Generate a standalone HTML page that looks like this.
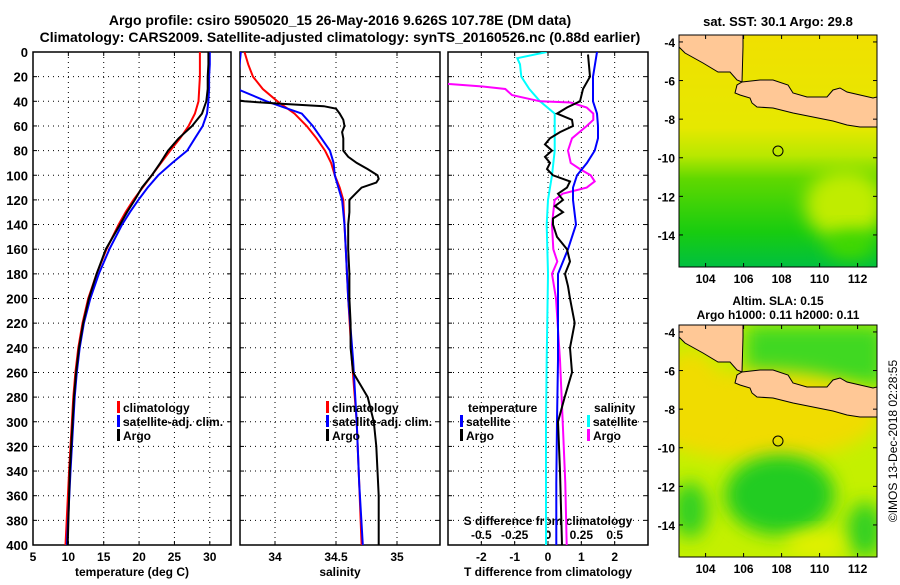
<!DOCTYPE html>
<html><head><meta charset="utf-8"><style>
body{margin:0;background:#fff}
svg text{font-family:"Liberation Sans",sans-serif;font-weight:bold;fill:#000}
</style></head><body>
<svg id="fig" width="900" height="580" xmlns="http://www.w3.org/2000/svg">
<defs>
<clipPath id="c1"><rect x="33" y="52" width="198" height="493"/></clipPath>
<clipPath id="c2"><rect x="240" y="52" width="200" height="493"/></clipPath>
<clipPath id="c3"><rect x="448" y="52" width="200" height="493"/></clipPath>
<clipPath id="m1"><rect x="679" y="35" width="198" height="232"/></clipPath>
<clipPath id="m2"><rect x="679" y="325" width="198" height="232"/></clipPath>
<linearGradient id="sstg" x1="0" y1="0" x2="0" y2="1">
<stop offset="0" stop-color="#f0e000"/><stop offset="0.4" stop-color="#e6e800"/><stop offset="0.52" stop-color="#b8e800"/><stop offset="0.62" stop-color="#60d800"/><stop offset="0.85" stop-color="#18cc10"/><stop offset="1" stop-color="#00c040"/></linearGradient>
<filter id="bl" x="-50%" y="-50%" width="200%" height="200%"><feGaussianBlur stdDeviation="9"/></filter>
</defs>
<text x="340" y="25" font-size="14" text-anchor="middle">Argo profile: csiro 5905020_15 26-May-2016 9.626S 107.78E (DM data)</text>
<text x="340" y="42" font-size="14" text-anchor="middle">Climatology: CARS2009. Satellite-adjusted climatology: synTS_20160526.nc (0.88d earlier)</text>
<g id="axes"></g>
<g id="maps">
 <g clip-path="url(#m1)">
  <rect x="679" y="35" width="198" height="232" fill="url(#sstg)"/>
  <ellipse cx="845" cy="205" rx="40" ry="35" fill="#c0ec00" filter="url(#bl)"/>
  <ellipse cx="850" cy="245" rx="25" ry="15" fill="#40d800" filter="url(#bl)"/>
  <polygon id="land1" fill="#ffc896" stroke="#000" stroke-width="1" points="679,35 743,35 743,47 742,82 737,80 730,72 718,72 703,63 685,53 679,47"/>
  <polygon fill="#ffc896" stroke="#000" stroke-width="1" points="742,82 760,80 773,80 788,85 793,93 807,97 827,97 833,90 840,88 847,92 860,95 873,98 877,97 877,127 860,127 847,125 833,121 813,117 793,113 773,108 757,107 752,103 750,98 740,95 735,93 737,85"/>
  <circle cx="778" cy="151" r="5" fill="none" stroke="#000"/>
 </g>
 <rect x="679" y="35" width="198" height="232" fill="none" stroke="#000"/>
 <g clip-path="url(#m2)">
  <rect x="679" y="325" width="198" height="232" fill="#c4f000"/>
  <rect x="745" y="325" width="140" height="60" fill="#40d820" filter="url(#bl)"/>
  <ellipse cx="760" cy="415" rx="120" ry="45" fill="#f0dc00" filter="url(#bl)"/>
  <ellipse cx="690" cy="390" rx="30" ry="40" fill="#f0dc00" filter="url(#bl)"/>
  <ellipse cx="780" cy="495" rx="55" ry="40" fill="#20cc20" filter="url(#bl)"/>
  <ellipse cx="690" cy="510" rx="18" ry="28" fill="#30d020" filter="url(#bl)"/>
  <ellipse cx="865" cy="530" rx="18" ry="28" fill="#30d020" filter="url(#bl)"/>
  <ellipse cx="815" cy="545" rx="30" ry="12" fill="#e4f000" filter="url(#bl)"/>
  <polygon fill="#ffc896" stroke="#000" stroke-width="1" points="679,325 743,325 743,337 742,372 737,370 730,362 718,362 703,353 685,343 679,337"/>
  <polygon fill="#ffc896" stroke="#000" stroke-width="1" points="742,372 760,370 773,370 788,375 793,383 807,387 827,387 833,380 840,378 847,382 860,385 873,388 877,387 877,417 860,417 847,415 833,411 813,407 793,403 773,398 757,397 752,393 750,388 740,385 735,383 737,375"/>
  <circle cx="778" cy="441" r="5" fill="none" stroke="#000"/>
 </g>
 <rect x="679" y="325" width="198" height="232" fill="none" stroke="#000"/>
 <text x="778" y="26" font-size="13" text-anchor="middle">sat. SST: 30.1 Argo: 29.8</text>
 <text x="778" y="305" font-size="12" text-anchor="middle">Altim. SLA: 0.15</text>
 <text x="778" y="319" font-size="12" text-anchor="middle">Argo h1000: 0.11 h2000: 0.11</text>
 <text x="897" y="441" font-size="12" font-weight="normal" text-anchor="middle" transform="rotate(-90 897 441)" style="font-weight:normal">©IMOS 13-Dec-2018 02:28:55</text>
</g>
</svg>
<script>
// Panel 1: temperature
const tDepth=[0,10,20,30,40,50,60,70,80,90,100,110,120,130,140,160,180,200,220,240,260,280,300,340,400];
const tClim=[28.6,28.6,28.6,28.5,28.4,27.9,27.0,25.8,24.4,23.1,21.8,20.5,19.2,18.1,17.1,15.4,14.0,12.8,12.0,11.4,11.0,10.7,10.5,10.1,9.6];
const tSat=[30.0,30.0,29.9,29.9,29.8,29.6,29.0,27.9,26.8,24.7,22.7,21.2,19.9,18.7,17.6,15.8,14.3,13.1,12.2,11.6,11.2,10.9,10.7,10.3,9.8];
const tArgo=[29.8,29.8,29.7,29.7,29.5,28.9,27.5,25.6,24.1,23.0,21.8,20.4,19.4,18.3,17.3,15.3,14.0,12.9,12.1,11.5,11.1,10.8,10.6,10.2,9.9];
// Panel 2: salinity
const sDepth=[0,10,20,30,40,50,60,70,80,90,100,110,120,140,160,200,250,300,350,400];
const sClim=[33.75,33.78,33.82,33.9,34.02,34.16,34.26,34.34,34.41,34.46,34.49,34.53,34.56,34.57,34.58,34.6,34.63,34.67,34.69,34.71];
const sSat=[33.72,33.71,33.70,33.69,33.93,34.22,34.31,34.38,34.45,34.48,34.49,34.52,34.55,34.57,34.58,34.6,34.64,34.67,34.69,34.72];
const sArgoDepth=[38,40,42,44,46,50,55,60,65,70,80,85,90,95,100,103,106,110,115,120,130,140,160,180,200,220,240,260,270,280,300,320,340,360,380,400];
const sArgo=[33.6,33.75,34.05,34.4,34.5,34.53,34.56,34.57,34.55,34.56,34.56,34.6,34.67,34.76,34.84,34.85,34.83,34.71,34.66,34.61,34.61,34.6,34.6,34.61,34.61,34.62,34.62,34.64,34.7,34.76,34.81,34.83,34.84,34.85,34.85,34.85];
// Panel 3: differences
const dtSatDepth=[0,20,40,50,60,70,80,90,100,110,120,140,160,180,200,250,300,350,400];
const dtSat=[1.47,1.35,1.35,1.47,1.5,1.5,1.4,1.17,0.87,0.75,0.75,0.84,0.6,0.3,0.3,0.3,0.27,0.25,0.25];
const dtArgoDepth=[2,20,30,40,45,50,55,60,65,70,75,80,85,90,95,100,105,110,115,120,125,130,135,140,150,160,170,180,190,200,220,240,260,280,300,340,400];
const dtArgo=[1.2,1.26,1.05,0.96,0.57,0.27,0.72,0.75,0.36,0.06,-0.09,0.12,-0.09,0.06,-0.03,0.15,0.66,0.57,0.3,0.45,0.21,0.45,0.15,0.15,0.27,0.57,0.66,0.51,0.6,0.66,0.8,0.66,0.72,0.5,0.3,0.36,0.42];
const dsSatDepth=[0,5,10,20,30,40,50,60,80,100,120,140,180,250,300,400];
const dsSat=[-0.01,-0.23,-0.21,-0.2,-0.14,-0.06,0.05,0.05,0.05,0.03,0,-0.01,0,-0.01,-0.015,-0.015];
const dsArgoDepth=[24,26,28,30,35,40,41,45,50,55,60,70,80,90,95,100,105,110,115,120,130,140,160,170,180,200,250,300,350,400];
const dsArgo=[-0.9,-0.74,-0.49,-0.32,-0.27,-0.06,0.17,0.29,0.34,0.34,0.29,0.18,0.15,0.17,0.24,0.32,0.35,0.29,0.11,0.05,0.04,0.03,0.04,0.07,0.03,0.06,0.09,0.11,0.13,0.14];
const depthTicks=[0,20,40,60,80,100,120,140,160,180,200,220,240,260,280,300,320,340,360,380,400];
const tTicks=[5,10,15,20,25,30];
const sTicks=[34,34.5,35];
const sTickLabels=['34','34.5','35'];
const dtTicks=[-2,-1,0,1,2];
const dsTicks=[-0.5,-0.25,0,0.25,0.5];
const dsTickLabels=['-0.5','-0.25','0','0.25','0.5'];
const lonTicks=[104,106,108,110,112];
const latTicks=[-4,-6,-8,-10,-12,-14];

const NS='http://www.w3.org/2000/svg';
const svg=document.getElementById('fig'), G=document.getElementById('axes');
const Y0=52,Y1=545;
const yD=d=>Y0+d*(Y1-Y0)/400;
const xT=v=>33+(v-5)*198/28;
const xS=v=>275+(v-34)*122;
const xDT=v=>548+v*200/6;
const xDS=v=>548+v*200/1.5;
function el(tag,attrs,parent){const e=document.createElementNS(NS,tag);for(const k in attrs)e.setAttribute(k,attrs[k]);(parent||G).appendChild(e);return e;}
function txt(x,y,s,size,anchor,parent){const t=el('text',{x:x,y:y,'font-size':size,'text-anchor':anchor||'middle'},parent);t.textContent=s;return t;}
function line(xs,ds,xf,color,w,clip,name){
 const p=xs.map((v,i)=>xf(v).toFixed(1)+','+yD(ds[i]).toFixed(1)).join(' ');
 const e=el('polyline',{points:p,fill:'none',stroke:color,'stroke-width':w,'clip-path':'url(#'+clip+')'});
 
 
}
function panel(x0,w,xticks,xf,name){
 const g=el('g',{});
 
 
 depthTicks.forEach(d=>{if(d>0&&d<400)el('line',{x1:x0,x2:x0+w,y1:yD(d),y2:yD(d),stroke:'#000','stroke-dasharray':'1,4'},g);
  el('line',{x1:x0,x2:x0+4,y1:yD(d),y2:yD(d),stroke:'#000'},g);el('line',{x1:x0+w-4,x2:x0+w,y1:yD(d),y2:yD(d),stroke:'#000'},g);});
 xticks.forEach(v=>{const x=xf(v);if(x>x0+1&&x<x0+w-1){el('line',{x1:x,x2:x,y1:Y0,y2:Y1,stroke:'#000','stroke-dasharray':'1,4'},g);}
  el('line',{x1:x,x2:x,y1:Y1,y2:Y1-4,stroke:'#000'},g);el('line',{x1:x,x2:x,y1:Y0,y2:Y0+4,stroke:'#000'},g);});
 el('rect',{x:x0,y:Y0,width:w,height:Y1-Y0,fill:'none',stroke:'#000','stroke-width':1.5},g);
 return g;
}
const g1=panel(33,198,tTicks,xT,'temperature-panel');
const g2=panel(240,200,sTicks,xS,'salinity-panel');
const g3=panel(448,200,dtTicks,xDT,'difference-panel');
depthTicks.forEach(d=>{const t=txt(28,yD(d)+5,String(d),13,'end');});
tTicks.forEach(v=>{const t=txt(xT(v),561,String(v),12);});
sTicks.forEach((v,i)=>{const t=txt(xS(v),561,sTickLabels[i],12);});
dtTicks.forEach(v=>{const t=txt(xDT(v),561,String(v),12);});
dsTicks.forEach((v,i)=>{const t=txt(xDS(v),539,dsTickLabels[i],12);});
let a=txt(132,576,'temperature (deg C)',12);
a=txt(340,576,'salinity',12);
a=txt(548,576,'T difference from climatology',12);
a=txt(548,525,'S difference from climatology',12);

line(tClim,tDepth,xT,'#f00',2,'c1','temp-climatology-line');
line(tSat,tDepth,xT,'#00f',2,'c1','temp-satellite-line');
line(tArgo,tDepth,xT,'#000',2,'c1','temp-argo-line');
line(sClim,sDepth,xS,'#f00',2,'c2','sal-climatology-line');
line(sSat,sDepth,xS,'#00f',2,'c2','sal-satellite-line');
line(sArgo,sArgoDepth,xS,'#000',2,'c2','sal-argo-line');
line(dsSat,dsSatDepth,xDS,'#0ff',2,'c3','ds-satellite-line');
line(dsArgo,dsArgoDepth,xDS,'#f0f',2,'c3','ds-argo-line');
line(dtSat,dtSatDepth,xDT,'#00f',2,'c3','dt-satellite-line');
line(dtArgo,dtArgoDepth,xDT,'#000',2,'c3','dt-argo-line');

function legend(x,y,items,name){
 const g=el('g',{});
 
 
 items.forEach((it,i)=>{const yy=y+i*14;
  if(it[0])el('rect',{x:x,y:yy-11,width:3,height:12,fill:it[0]},g);
  txt(x+(it[0]?6:0),yy,it[1],12,'start',g);});
}
legend(117,412,[['#f00','climatology'],['#00f','satellite-adj. clim.'],['#000','Argo']],'temp-legend');
legend(326,412,[['#f00','climatology'],['#00f','satellite-adj. clim.'],['#000','Argo']],'sal-legend');
legend(468,412,[[null,'temperature']],'diff-legend-title-t');
legend(460,426,[['#00f','satellite'],['#000','Argo']],'diff-legend-t');
legend(594,412,[[null,'salinity']],'diff-legend-title-s');
legend(587,426,[['#0ff','satellite'],['#f0f','Argo']],'diff-legend-s');

// map axes
const mlon=v=>679+(v-102.6)*19;
const mlat=(v,top)=>top+(-3.64-v)*19.3;
[35,325].forEach((top,mi)=>{
 const g=el('g',{},document.getElementById('maps'));
 
 
 lonTicks.forEach(v=>{const x=mlon(v);el('line',{x1:x,x2:x,y1:top+232,y2:top+228,stroke:'#000'},g);el('line',{x1:x,x2:x,y1:top,y2:top+4,stroke:'#000'},g);txt(x,top+248,String(v),12,'middle',g);});
 latTicks.forEach(v=>{const y=mlat(v,top);el('line',{x1:679,x2:683,y1:y,y2:y,stroke:'#000'},g);el('line',{x1:873,x2:877,y1:y,y2:y,stroke:'#000'},g);txt(675,y+5,String(v),12,'end',g);});
});
</script>
</body></html>
